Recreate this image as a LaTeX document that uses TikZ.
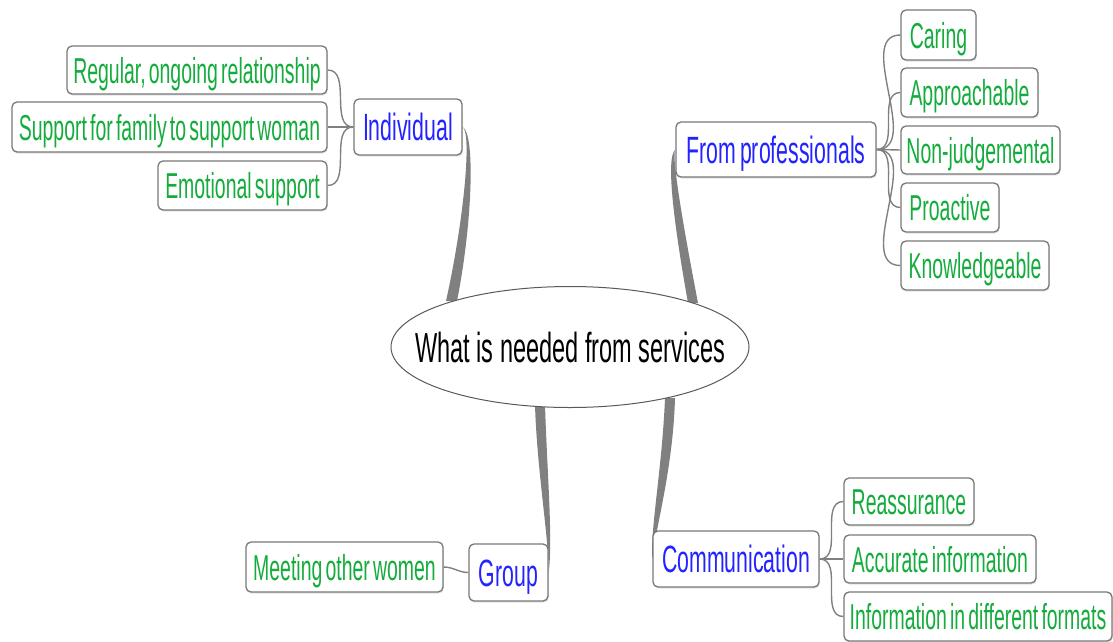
\documentclass[tikz,border=0pt]{standalone}
\usepackage{fontspec}
\setmainfont{Liberation Sans}
\newfontfamily\gfont{Liberation Sans}[FakeStretch=0.54]
\newfontfamily\bfont{Liberation Sans}[FakeStretch=0.56]
\newcommand\myleaffont{\gfont\fontsize{36}{40}\selectfont\spaceskip=3.2pt plus 1pt\relax}
\newcommand\mytopicfont{\bfont\fontsize{38}{42}\selectfont\spaceskip=4pt plus 1pt\relax}
\usetikzlibrary{shapes.geometric,shadows,backgrounds}
\definecolor{leafgreen}{RGB}{20,172,60}
\definecolor{mainblue}{RGB}{35,35,255}
\definecolor{boxgray}{RGB}{120,120,120}
\definecolor{branchgray}{RGB}{128,128,128}
\tikzset{
  box/.style={draw=boxgray, line width=1.3pt, rounded corners=5pt, fill=white,
    inner sep=0pt, drop shadow={shadow xshift=0.8pt, shadow yshift=-1.6pt, fill=black!22}},
  leaf/.style={box, text=leafgreen, font=\myleaffont,
    text height=26pt, text depth=0pt},
  topic/.style={box, text=mainblue, font=\mytopicfont,
    text height=27pt, text depth=0pt},
  rootnode/.style={ellipse, draw=black!65, line width=1pt, fill=white,
    inner xsep=-40pt, inner ysep=0pt,
    font=\bfont\fontsize{42}{46}\selectfont, text height=30pt, text depth=0pt},
  link/.style={draw=branchgray, line width=1.4pt},
  branch/.style={fill=branchgray},
}
\begin{document}
\begin{tikzpicture}[x=1pt,y=-1pt]
\useasboundingbox (0,0) rectangle (1113,641);

% central topic
\node[rootnode, minimum width=358pt, minimum height=121pt] (root) at (570,347) {What is needed from services};

% main topics
\node[topic, minimum width=108pt, minimum height=56pt] (ind) at (408,127) {Individual};
\node[topic, minimum width=200pt, minimum height=55pt] (prof) at (776,149.5) {From professionals};
\node[topic, minimum width=79pt, minimum height=57pt] (group) at (508.5,572.5) {Group};
\node[topic, minimum width=166pt, minimum height=56pt] (comm) at (736,559) {Communication};

% leaves: Individual
\node[leaf, minimum width=260pt, minimum height=48pt] (reg) at (197,70) {Regular, ongoing relationship};
\node[leaf, minimum width=315pt, minimum height=50pt] (sup) at (169.5,127) {Support for family to support woman};
\node[leaf, minimum width=169pt, minimum height=49pt] (emo) at (242.5,185.5) {Emotional support};

% leaves: From professionals
\node[leaf, minimum width=75pt, minimum height=50pt] (car) at (938.5,35) {Caring};
\node[leaf, minimum width=137pt, minimum height=49pt] (app) at (969.5,92.5) {Approachable};
\node[leaf, minimum width=159pt, minimum height=48pt] (non) at (980.5,150) {Non-judgemental};
\node[leaf, minimum width=98pt, minimum height=49pt] (pro) at (950,207.5) {Proactive};
\node[leaf, minimum width=148pt, minimum height=49pt] (kno) at (975,265.5) {Knowledgeable};

% leaves: Group
\node[leaf, minimum width=197pt, minimum height=50pt] (mee) at (344.5,567) {Meeting other women};

% leaves: Communication
\node[leaf, minimum width=130pt, minimum height=47pt] (rea) at (909,501.5) {Reassurance};
\node[leaf, minimum width=192pt, minimum height=48pt] (acc) at (940,559) {Accurate information};
\node[leaf, minimum width=268pt, minimum height=49pt] (inf) at (978,616.5) {Information in different formats};

% ellipse attachment points
\coordinate (rInd) at (452,301);
\coordinate (rPro) at (693,303);
\coordinate (rGrp) at (540,405);
\coordinate (rCom) at (670,398);

\begin{scope}[on background layer]
  % tapered main branches
  \fill[branch] (ind.east) .. controls (472,133) and (464,220) .. ([xshift=-6pt]rInd)
     -- ([xshift=5pt]rInd) .. controls (473,220) and (475,133) .. (ind.east) -- cycle;
  \fill[branch] (prof.west) .. controls (665,158) and (675,230) .. ([xshift=-5pt]rPro)
     -- ([xshift=5pt]rPro) .. controls (684,230) and (671,156) .. (prof.west) -- cycle;
  \fill[branch] ([xshift=-5pt]rGrp) .. controls (537,470) and (549,540) .. (group.east)
     .. controls (553,540) and (547,470) .. ([xshift=5pt]rGrp) -- cycle;
  \fill[branch] ([xshift=-5pt]rCom) .. controls (662,470) and (650,530) .. (comm.west)
     .. controls (655,530) and (673,470) .. ([xshift=5pt]rCom) -- cycle;
\end{scope}

% thin sub-branches
\draw[link] (ind.west) to[out=180,in=0] (reg.east);
\draw[link] (ind.west) -- (sup.east);
\draw[link] (ind.west) to[out=180,in=0] (emo.east);

\draw[link] (prof.east) to[out=0,in=180] (car.west);
\draw[link] (prof.east) to[out=0,in=180] (app.west);
\draw[link] (prof.east) -- (non.west);
\draw[link] (prof.east) to[out=0,in=180] (pro.west);
\draw[link] (prof.east) to[out=0,in=180] (kno.west);

\draw[link] (group.west) to[out=180,in=0] (mee.east);

\draw[link] (comm.east) to[out=0,in=180] (rea.west);
\draw[link] (comm.east) -- (acc.west);
\draw[link] (comm.east) to[out=0,in=180] (inf.west);
\end{tikzpicture}
\end{document}
